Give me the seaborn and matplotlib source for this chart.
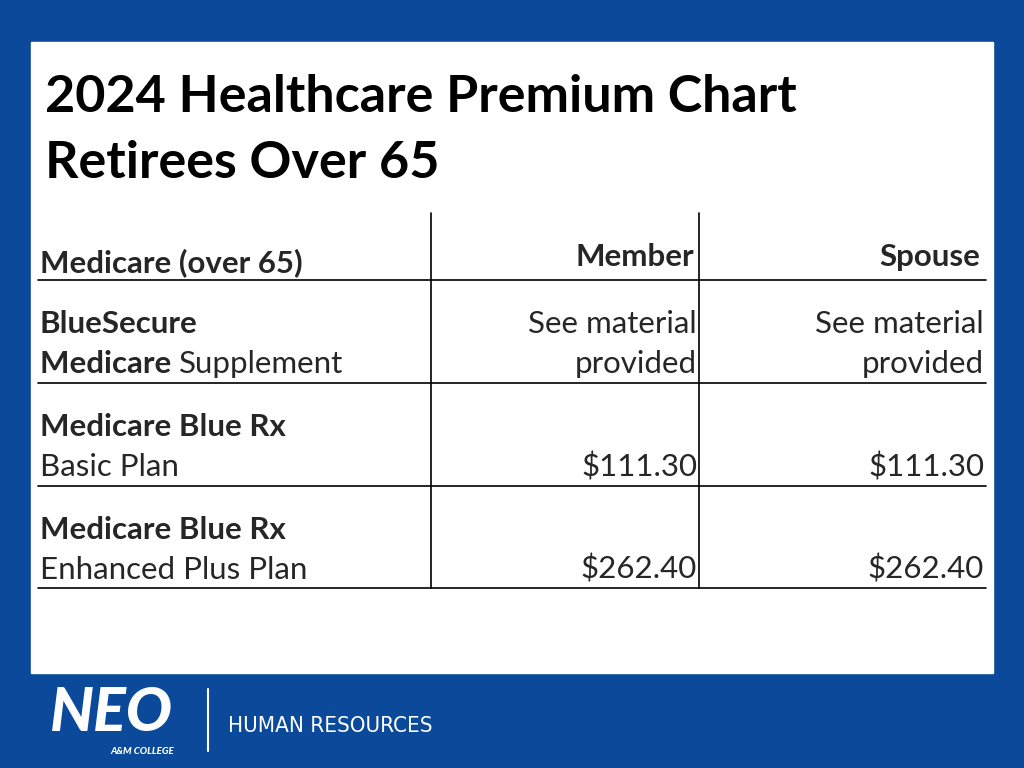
import matplotlib.pyplot as plt
import seaborn as sns

sns.set_style("white")
plt.rcParams['font.family'] = ['Lato', 'DejaVu Sans']

title_lines = ["2024 Healthcare Premium Chart", "Retirees Over 65"]
columns = ["Medicare (over 65)", "Member", "Spouse"]
plan_bold = ["BlueSecure", "Medicare Blue Rx", "Medicare Blue Rx"]
plan_sub_bold = ["Medicare", "", ""]
plan_sub = ["Supplement", "Basic Plan", "Enhanced Plus Plan"]
member = [["See material", "provided"], ["", "$111.30"], ["", "$262.40"]]
spouse = [["See material", "provided"], ["", "$111.30"], ["", "$262.40"]]

blue = "#0B4A9B"

fig = plt.figure(figsize=(10.24, 7.68), dpi=100)
fig.patch.set_facecolor(blue)
ax = fig.add_axes([0, 0, 1, 1])
ax.set_xlim(0, 1024)
ax.set_ylim(768, 0)
ax.axis("off")

# white content panel
ax.add_patch(plt.Rectangle((31, 42), 962, 631, color="white", zorder=0))

# title
for i, t in enumerate(title_lines):
    ax.text(45, 112 + i * 66, t, fontsize=37.5, fontweight="bold", color="black", va="baseline")

# table grid
row_lines = [280, 383, 486, 588]
for y in row_lines:
    ax.plot([38, 986], [y, y], color="black", lw=1.2)
for x in [431, 699]:
    ax.plot([x, x], [213, 588], color="black", lw=1.2)

fs = 22.5
col_right = [697, 984]
ax.text(40, 272, columns[0], fontsize=fs, fontweight="bold", va="baseline")
ax.text(col_right[0] - 3, 266, columns[1], fontsize=fs, fontweight="bold", va="baseline", ha="right")
ax.text(col_right[1] - 4, 266, columns[2], fontsize=fs, fontweight="bold", va="baseline", ha="right")

for r in range(3):
    top = row_lines[r]
    y1, y2 = top + 53, top + 93
    ax.text(40, y1, plan_bold[r], fontsize=fs, fontweight="bold", va="baseline")
    if plan_sub_bold[r]:
        t = ax.text(40, y2, plan_sub_bold[r] + " ", fontsize=fs, fontweight="bold", va="baseline")
        fig.canvas.draw()
        bb = t.get_window_extent()
        x0 = ax.transData.inverted().transform((bb.x1, 0))[0]
        ax.text(x0, y2, plan_sub[r], fontsize=fs, va="baseline")
    else:
        ax.text(40, y2, plan_sub[r], fontsize=fs, va="baseline")
    for c, vals in enumerate([member[r], spouse[r]]):
        for k, v in enumerate(vals):
            if v:
                ax.text(col_right[c], [y1, y2][k], v, fontsize=fs, va="baseline", ha="right")

# footer logo
ax.text(50, 731, "NEO", fontsize=44, fontweight="black", fontstyle="italic", color="white", va="baseline")
ax.text(110, 754, "A&M COLLEGE", fontsize=7, fontweight="black", fontstyle="italic", color="white", va="baseline")
ax.plot([208, 208], [689, 751], color="white", lw=1.5)
ax.text(228, 732, "HUMAN RESOURCES", fontsize=16, color="white", va="baseline",
        family=["DejaVu Sans"], fontstretch="condensed")

fig.savefig("out.png", dpi=100, facecolor=blue)
